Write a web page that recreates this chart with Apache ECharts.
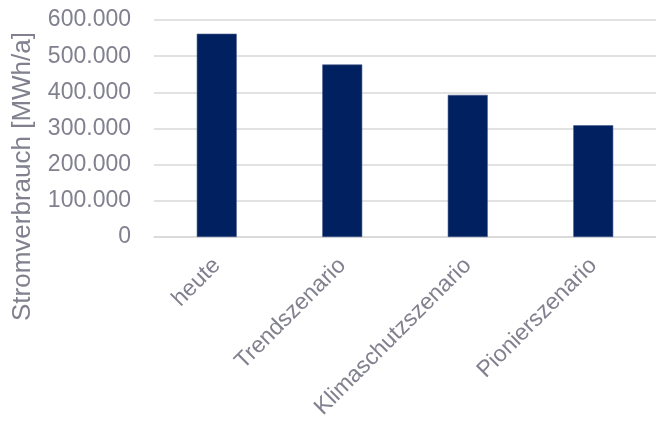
<!DOCTYPE html>
<html>
<head>
<meta charset="utf-8">
<script src="https://cdn.jsdelivr.net/npm/echarts@6/dist/echarts.min.js"></script>
<style>
  html, body { margin: 0; padding: 0; background: #fff; }
  #chart { width: 656px; height: 422px; }
</style>
</head>
<body>
<div id="chart"></div>
<script>
// Electricity demand per scenario (MWh per year)
const categories = ['heute', 'Trendszenario', 'Klimaschutzszenario', 'Pionierszenario'];
const consumption = [562000, 477000, 393000, 309000];
const axisTitle = 'Stromverbrauch [MWh/a]';

const textGray = '#80808f';
const fontFamily = '"Liberation Sans", Arial, sans-serif';

// German thousands separator: 600000 -> "600.000"
function formatThousands(v) {
  return String(Math.round(v)).replace(/\B(?=(\d{3})+(?!\d))/g, '.');
}

const chart = echarts.init(document.getElementById('chart'));
chart.setOption({
  animation: false,
  backgroundColor: '#ffffff',
  grid: { left: 154, right: -7, top: 20, bottom: 185, containLabel: false },
  xAxis: {
    type: 'category',
    data: categories,
    axisLine: { show: true, lineStyle: { color: '#d9d9d9', width: 1.5 } },
    axisTick: { show: false },
    axisLabel: {
      rotate: 45,
      margin: 25,
      color: textGray,
      fontSize: 23,
      fontFamily: fontFamily,
      interval: 0
    }
  },
  yAxis: {
    type: 'value',
    min: 0,
    max: 600000,
    interval: 100000,
    name: axisTitle,
    nameLocation: 'middle',
    nameGap: 118,
    nameTextStyle: {
      color: textGray,
      fontSize: 26,
      fontFamily: fontFamily,
      padding: [0, 96, 0, 0]
    },
    axisLine: { show: false },
    axisTick: { show: false },
    axisLabel: {
      margin: 23,
      color: textGray,
      fontSize: 23,
      fontFamily: fontFamily,
      formatter: formatThousands
    },
    splitLine: { lineStyle: { color: '#d9d9d9', width: 1.5 } }
  },
  series: [{
    type: 'bar',
    data: consumption,
    barWidth: 40,
    itemStyle: { color: '#002060', borderColor: '#4a5d8c', borderWidth: 0.6 }
  }]
});
</script>
</body>
</html>
